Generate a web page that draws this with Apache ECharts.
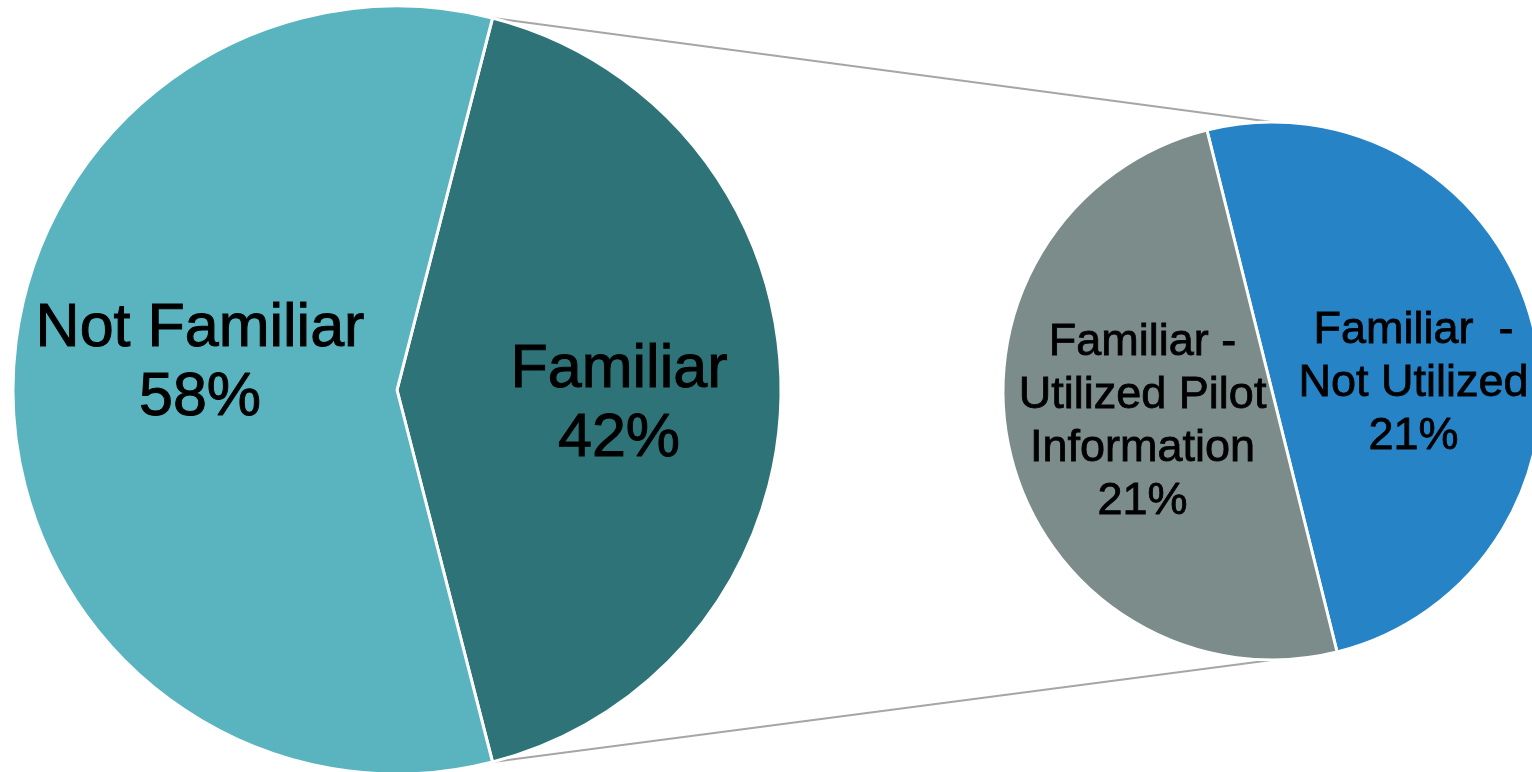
<!DOCTYPE html>
<html>
<head>
<meta charset="utf-8">
<title>Familiarity pie of pie</title>
<script src="https://cdn.jsdelivr.net/npm/echarts@6/dist/echarts.min.js"></script>
<style>
  html, body { margin: 0; padding: 0; background: #fff; }
  #chart { width: 1532px; height: 772px; }
</style>
</head>
<body>
<div id="chart"></div>
<script>
// 数据
var mainNames = ["Familiar", "Not Familiar"];
var mainValues = [42, 58];
var subNames = ["Familiar  -\nNot Utilized", "Familiar -\nUtilized Pilot\nInformation"];
var subValues = [21, 21];

(function() {
  var myChart = echarts.init(document.getElementById("chart"));

  // 饼图位置
  var c1 = [397, 390], r1 = 384;
  var c2 = [1272, 391], r2 = 269;
  var total = mainValues[0] + mainValues[1];
  // "Familiar" centered on the right side
  var startMain = (mainValues[0] / total) * 360 / 2;
  var startSub = 104;

  function pt(c, r, deg) {
    var a = deg * Math.PI / 180;
    return [c[0] + r * Math.cos(a), c[1] - r * Math.sin(a)];
  }
  var topA = pt(c1, r1, startMain);
  var botA = pt(c1, r1, -startMain);
  var topB = [c2[0], c2[1] - r2];
  var botB = [c2[0], c2[1] + r2];

  var mainOffsets = [[27, 15], [-2, -26]];
  var subOffsets = [[8, 26], [4, -2]];

  var option = {
    animation: false,
    graphic: [
      { type: "line", z: 0, shape: { x1: topA[0], y1: topA[1], x2: topB[0], y2: topB[1] },
        style: { stroke: "#a6a6a6", lineWidth: 2 } },
      { type: "line", z: 0, shape: { x1: botA[0], y1: botA[1], x2: botB[0], y2: botB[1] },
        style: { stroke: "#a6a6a6", lineWidth: 2 } }
    ],
    series: [
      {
        type: "pie",
        center: c1,
        radius: [0, r1],
        startAngle: startMain,
        clockwise: true,
        color: ["#2e7378", "#59b4c0"],
        itemStyle: { borderColor: "#fff", borderWidth: 3 },
        label: {
          position: "inside",
          formatter: "{b}\n{c}%",
          color: "#000",
          fontFamily: "Liberation Sans",
          fontSize: 61,
          lineHeight: 69,
          textBorderColor: "#000",
          textBorderWidth: 1
        },
        labelLine: { show: false },
        labelLayout: function(p) {
          var o = mainOffsets[p.dataIndex];
          return { dx: o[0], dy: o[1] };
        },
        data: mainNames.map(function(n, i) { return { name: n, value: mainValues[i] }; })
      },
      {
        type: "pie",
        center: c2,
        radius: [0, r2],
        startAngle: startSub,
        clockwise: true,
        color: ["#2683c6", "#7b8c8b"],
        itemStyle: { borderColor: "#fff", borderWidth: 3 },
        label: {
          position: "inside",
          formatter: "{b}\n{c}%",
          color: "#000",
          fontFamily: "Liberation Sans",
          fontSize: 45,
          lineHeight: 53,
          textBorderColor: "#000",
          textBorderWidth: 0.8
        },
        labelLine: { show: false },
        labelLayout: function(p) {
          var o = subOffsets[p.dataIndex];
          return { dx: o[0], dy: o[1] };
        },
        data: subNames.map(function(n, i) { return { name: n, value: subValues[i] }; })
      }
    ]
  };

  myChart.setOption(option);
  window.addEventListener("resize", function() {
    myChart.resize();
  });
})();
</script>
</body>
</html>
